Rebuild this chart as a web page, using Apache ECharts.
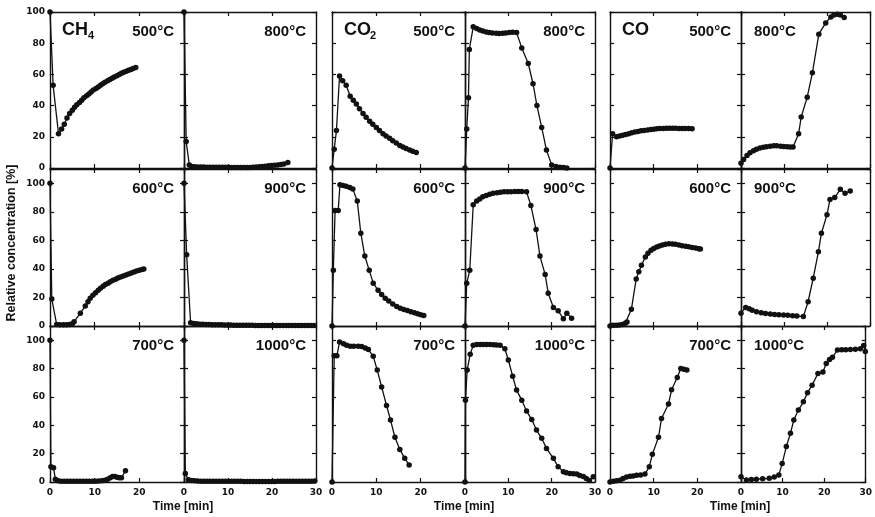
<!DOCTYPE html>
<html>
<head>
<meta charset="utf-8">
<script src="https://cdn.jsdelivr.net/npm/echarts/dist/echarts.min.js"></script>
<style>
  html, body { margin: 0; background: #fff; }
  #main { width: 875px; height: 517px; }
</style>
</head>
<body>
<div id="main"></div>
<script>
// data: [time (min), relative concentration (%)]
var ch4_500 = [[0,100],[0.7,53],[1.9,22],[2.6,25],[3.2,28],[3.8,32],[4.4,35],[5,37],[5.5,39],[6,40.5],[6.6,42],[7.1,43.5],[7.6,45],[8.2,46.3],[8.7,47.5],[9.2,48.7],[9.7,50],[10.3,51],[10.8,52],[11.3,53],[11.8,54],[12.3,55],[12.9,56],[13.4,56.8],[13.9,57.6],[14.4,58.4],[15,59.2],[15.5,60],[16,60.7],[16.5,61.4],[17.1,62],[17.6,62.6],[18.1,63.2],[18.6,63.8],[19.2,64.5]];
var ch4_600 = [[0,100],[0.4,19],[1.5,1],[2.2,0.8],[3,0.8],[3.7,0.8],[4.4,1],[5,1.5],[5.4,3],[6.8,9],[7.9,14],[8.5,17],[9,19.5],[9.6,21.5],[10.2,23.3],[10.8,25],[11.3,26.5],[11.9,27.8],[12.4,29],[13,30],[13.5,31],[14.1,32],[14.7,32.8],[15.2,33.6],[15.8,34.4],[16.4,35],[17,35.8],[17.6,36.5],[18.2,37.2],[18.8,37.8],[19.4,38.5],[20,39],[20.6,39.6],[21,40]];
var ch4_700 = [[0,100],[0.2,10.8],[0.8,10],[1.2,2],[1.8,0.8],[2.5,0.6],[3.2,0.5],[3.9,0.5],[4.6,0.5],[5.3,0.5],[6,0.5],[6.7,0.5],[7.4,0.5],[8.1,0.5],[8.8,0.5],[9.5,0.5],[10.2,0.6],[10.9,0.7],[11.6,0.9],[12.3,1.3],[12.9,2],[13.5,3],[14,3.8],[14.5,3.8],[15,3.3],[15.5,3],[16,3],[16.9,8]];
var ch4_800 = [[0,100],[0.5,17],[1.2,2],[1.7,1],[2.4,0.8],[3.1,0.7],[3.8,0.6],[4.5,0.6],[5.2,0.5],[5.9,0.5],[6.6,0.5],[7.3,0.5],[8,0.5],[8.7,0.5],[9.4,0.5],[10.1,0.5],[10.8,0.4],[11.5,0.4],[12.2,0.4],[12.9,0.3],[13.6,0.3],[14.3,0.3],[15,0.4],[15.7,0.5],[16.4,0.6],[17.1,0.8],[17.8,1],[18.5,1.2],[19.2,1.4],[19.9,1.6],[20.6,1.8],[21.3,2],[22,2.2],[22.7,2.5],[23.6,3.5]];
var ch4_900 = [[0,100],[0.6,50],[1.5,2.3],[2.2,1.8],[2.9,1.5],[3.6,1.3],[4.3,1.2],[5,1.1],[5.7,1],[6.4,0.9],[7.1,0.9],[7.8,0.8],[8.5,0.8],[9.2,0.7],[9.9,0.7],[10.6,0.7],[11.3,0.6],[12,0.6],[12.7,0.6],[13.4,0.5],[14.1,0.5],[14.8,0.5],[15.5,0.5],[16.2,0.4],[16.9,0.4],[17.6,0.4],[18.3,0.4],[19,0.4],[19.7,0.3],[20.4,0.3],[21.1,0.3],[21.8,0.3],[22.5,0.3],[23.2,0.3],[23.9,0.3],[24.6,0.3],[25.3,0.3],[26,0.3],[26.7,0.3],[27.4,0.3],[28.1,0.3],[28.8,0.3],[29.5,0.3]];
var ch4_1000 = [[0,100],[0.3,6],[1,1.5],[1.7,1],[2.4,0.8],[3.1,0.7],[3.8,0.6],[4.5,0.6],[5.2,0.5],[5.9,0.5],[6.6,0.5],[7.3,0.5],[8,0.5],[8.7,0.5],[9.4,0.5],[10.1,0.5],[10.8,0.5],[11.5,0.5],[12.2,0.5],[12.9,0.5],[13.6,0.4],[14.3,0.4],[15,0.4],[15.7,0.4],[16.4,0.4],[17.1,0.4],[17.8,0.4],[18.5,0.4],[19.2,0.4],[19.9,0.4],[20.6,0.4],[21.3,0.5],[22,0.5],[22.7,0.5],[23.4,0.5],[24.1,0.5],[24.8,0.5],[25.5,0.5],[26.2,0.5],[26.9,0.5],[27.6,0.6],[28.3,0.6],[29,0.6],[29.7,0.7]];

var co2_500 = [[0,0],[0.5,12],[1,24],[1.7,59],[2.4,56],[3.2,53],[4.1,46],[4.8,43.5],[5.5,41],[6.2,38],[7,35],[7.7,32.5],[8.5,30],[9.2,28],[10,26],[10.7,24],[11.5,22],[12.2,20.5],[13,19],[13.7,17.5],[14.5,16],[15.3,14.5],[16,13.5],[16.7,12.5],[17.5,11.5],[18.2,10.7],[19,10]];
var co2_600 = [[0,0],[0.3,39],[0.7,81],[1.4,81],[1.8,99],[2.5,98.5],[3.2,98],[4,97],[4.7,96],[5.7,87.5],[6.5,65],[7.4,49],[8.4,39],[9.3,30],[10.4,25],[11.2,22],[12,19.5],[12.8,17.5],[13.7,15.5],[14.6,13.6],[15.4,12.5],[16.2,11.5],[17,10.8],[17.8,10],[18.6,9.2],[19.3,8.5],[20,7.8],[20.7,7.3]];
var co2_700 = [[0,0],[0.5,89],[1.1,89],[1.7,98.8],[2.6,97.5],[3.3,96.5],[4.1,95.8],[4.9,95.8],[5.9,95.8],[6.7,95.5],[7.5,94.5],[8.2,93.4],[9.3,88.7],[10.2,78.9],[11.2,67],[12.3,54],[13.2,43.7],[14.2,31.5],[15.3,23],[16.4,16.7],[17.4,12]];
var co2_800 = [[0,0],[0.4,25],[0.8,45],[1,76],[1.9,90.5],[2.7,89.5],[3.4,88.5],[4.1,87.8],[4.9,87.2],[5.6,86.8],[6.3,86.5],[7.2,86.3],[7.9,86.2],[8.7,86.3],[9.4,86.6],[10.2,86.8],[11,87],[11.9,86.8],[13.1,77],[14.6,67],[15.7,54],[16.6,40],[17.7,26],[18.8,11.5],[20,2],[21,1],[21.9,0.5],[22.7,0.3],[23.5,0]];
var co2_900 = [[0,0],[0.4,30],[1.1,39],[1.9,85],[2.7,87.5],[3.4,89],[4.1,90.5],[4.9,91.5],[5.7,92.3],[6.5,93],[7.4,93.4],[8.2,93.7],[9,94],[9.8,94],[10.6,94],[11.5,94.2],[12.3,94.2],[13.1,94.3],[14.2,94],[15.2,84.5],[16.4,67.6],[17.3,49],[18.5,36],[19.2,23],[20.4,13],[21.5,10.7],[22.7,5],[23.5,9],[24.6,5.5]];
var co2_1000 = [[0,0],[0.1,57.7],[0.5,79],[1.2,90],[1.9,96.5],[2.7,97],[3.5,97],[4.2,97],[5,97],[5.8,97],[6.6,96.8],[7.3,96.6],[8.1,96.5],[9.2,94],[10,86],[11,74.6],[11.9,64.8],[13.1,57.7],[14.2,50],[15.4,44],[16.5,36.6],[17.7,30.8],[18.8,23.7],[20.4,16.7],[21.5,10.8],[22.7,7.3],[23.4,6.5],[24.2,6],[25,5.8],[25.8,5.6],[26.5,4.5],[27.3,3.8],[28,2.5],[28.7,1],[29.6,3.7]];

var co_500 = [[0,0],[0.6,22],[1.5,20],[2.2,20.5],[2.9,21],[3.6,21.5],[4.3,22],[5,22.6],[5.7,23],[6.4,23.4],[7.1,23.8],[7.8,24.1],[8.6,24.4],[9.3,24.7],[10,24.9],[10.7,25.1],[11.4,25.3],[12.2,25.4],[12.9,25.5],[13.6,25.5],[14.3,25.5],[15,25.5],[15.8,25.4],[16.5,25.4],[17.2,25.3],[18,25.3],[18.8,25.2]];
var co_600 = [[0,0],[0.7,0.5],[1.4,0.5],[2.1,0.7],[2.8,1],[3.5,2],[3.9,2.8],[4.9,11.7],[6,33],[6.6,38],[7.2,42.5],[8.1,48.4],[8.7,51],[9.4,53],[10,54.3],[10.7,55.3],[11.3,56],[12,56.8],[12.7,57.3],[13.5,57.7],[14.3,57.5],[15,57.2],[15.8,56.8],[16.5,56.3],[17.3,55.9],[18,55.5],[18.8,55],[19.6,54.6],[20.3,54.2],[20.7,54]];
var co_700 = [[0,0],[0.8,0.5],[1.5,0.8],[2.3,1.2],[3,2.5],[3.8,3.5],[4.6,4],[5.3,4.3],[6.1,4.7],[7,5],[8,5.6],[9,10.8],[9.7,19.5],[11.1,31.5],[11.8,44.8],[13.4,55],[14.1,65],[15.4,73.7],[16.2,80],[16.9,79.5],[17.6,79]];
var co_800 = [[0,3],[0.6,5.5],[1.4,8],[2.1,9.8],[2.9,11],[3.6,12],[4.4,12.8],[5.2,13.3],[5.9,13.7],[6.8,14],[7.6,14.2],[8.3,14.2],[9.2,14],[9.9,13.8],[10.7,13.6],[11.4,13.5],[12.1,13.5],[13.4,22],[14,32.7],[15.4,45.4],[16.6,61],[18.1,85.8],[19.7,93],[20.9,96.8],[21.6,98],[22.4,98.5],[23.1,98],[24,96.4]];
var co_900 = [[0,9],[1.1,13],[1.9,12],[2.6,11],[3.6,10],[4.7,9.3],[5.7,8.8],[6.8,8.4],[7.8,8],[8.8,7.8],[9.9,7.7],[10.9,7.5],[12,7.2],[13,7],[14.5,6.6],[15.6,17],[16.8,33.5],[18,52],[18.7,65],[20,78],[20.7,88.7],[21.8,90],[23.1,95.8],[24.2,93],[25.4,94.6]];
var co_1000 = [[0,3.7],[1.3,1.4],[2.5,1.8],[3.7,2],[5.2,2.3],[6.8,2.6],[8,3.5],[9.1,5],[9.9,13],[10.9,25],[11.9,34.4],[12.7,43.7],[13.8,50.7],[15,56.5],[16,63],[17.1,68.3],[18.5,76.5],[19.7,77.5],[20.5,83.6],[21.3,86.4],[22,88],[23.2,93],[24.2,93.2],[25.2,93.3],[26.3,93.4],[27.5,93.6],[28.7,94],[29.5,96.3],[29.9,92]];

var gasNames = ['CH', 'CO', 'CO'];
var gasSubs = ['4', '2', ''];
var tempsLeft = ['500°C', '600°C', '700°C'];
var tempsRight = ['800°C', '900°C', '1000°C'];

var seriesByPanel = [
  [ch4_500, ch4_800], [ch4_600, ch4_900], [ch4_700, ch4_1000],
  [co2_500, co2_800], [co2_600, co2_900], [co2_700, co2_1000],
  [co_500, co_800], [co_600, co_900], [co_700, co_1000]
];

(function () {
  // layout (pixels)
  var cols = [[50, 134], [184, 132], [332, 133], [465, 130], [610, 131], [741, 129]];
  var rows = [[12, 156, 100], [169, 157, 110], [326, 156, 110]];
  var ink = '#111';
  var font = '"Liberation Sans", Arial, sans-serif';

  var grids = [], xAxes = [], yAxes = [], series = [], graphic = [];

  function axisCommon() {
    return {
      axisLine: { show: true, onZero: false, lineStyle: { color: ink, width: 1.4 } },
      axisTick: { show: true, inside: true, length: 4, lineStyle: { color: ink, width: 1.2 } },
      splitLine: { show: false }
    };
  }

  for (var g = 0; g < 3; g++) {
    for (var r = 0; r < 3; r++) {
      for (var s = 0; s < 2; s++) {
        var c = g * 2 + s;
        var gi = grids.length;
        var gLeft = cols[c][0], gWidth = cols[c][1];
        var gTop = rows[r][0], gHeight = rows[r][1], yMax = rows[r][2];
        var leftSide = s === 0;
        grids.push({ left: gLeft, top: gTop, width: gWidth, height: gHeight });

        var xb = axisCommon();
        xb.gridIndex = gi; xb.type = 'value'; xb.position = 'bottom';
        xb.min = 0; xb.max = 30; xb.interval = 10;
        xb.axisLabel = {
          show: r === 2, margin: 6, color: ink, fontFamily: 'DejaVu Sans', fontWeight: 'bold', fontSize: 9,
          formatter: leftSide ? function (v) { return v === 30 ? '' : String(v); } : function (v) { return String(v); }
        };
        var xt = axisCommon();
        xt.gridIndex = gi; xt.type = 'value'; xt.position = 'top';
        xt.min = 0; xt.max = 30; xt.interval = 10; xt.axisLabel = { show: false };
        xAxes.push(xb, xt);

        var yl = axisCommon();
        yl.gridIndex = gi; yl.type = 'value'; yl.position = 'left';
        yl.min = 0; yl.max = yMax; yl.interval = 20;
        yl.axisLabel = {
          show: c === 0, margin: 5, color: ink, fontFamily: 'DejaVu Sans', fontWeight: 'bold', fontSize: 9,
          formatter: function (v) { return v > 100 ? '' : String(v); }
        };
        var yr = axisCommon();
        yr.gridIndex = gi; yr.type = 'value'; yr.position = 'right';
        yr.min = 0; yr.max = yMax; yr.interval = 20; yr.axisLabel = { show: false };
        yAxes.push(yl, yr);

        series.push({
          type: 'line', xAxisIndex: gi * 2, yAxisIndex: gi * 2,
          data: seriesByPanel[g * 3 + r][s],
          symbol: 'circle', symbolSize: 5.5, showSymbol: true,
          lineStyle: { color: ink, width: 1.3 },
          itemStyle: { color: ink },
          animation: false, silent: true
        });

        // temperature label
        var alignLeft = (g === 2 && !leftSide);
        graphic.push({
          type: 'text',
          x: alignLeft ? gLeft + 13 : gLeft + gWidth - 10,
          y: gTop + 20,
          style: {
            text: leftSide ? tempsLeft[r] : tempsRight[r], fill: ink, font: 'bold 15px ' + font,
            align: alignLeft ? 'left' : 'right', verticalAlign: 'middle'
          }
        });
      }
    }
    // gas label
    var gx = cols[g * 2][0] + 12;
    graphic.push({
      type: 'text', x: gx, y: 30,
      style: { text: gasNames[g], fill: ink, font: 'bold 18px ' + font, align: 'left', verticalAlign: 'middle' }
    });
    if (gasSubs[g]) {
      graphic.push({
        type: 'text', x: gx + 26, y: 36,
        style: { text: gasSubs[g], fill: ink, font: 'bold 11px ' + font, align: 'left', verticalAlign: 'middle' }
      });
    }
    // time axis title, centred under each pair of panels
    graphic.push({
      type: 'text', x: cols[g * 2 + 1][0] - 1, y: 507,
      style: { text: 'Time [min]', fill: ink, font: 'bold 12px ' + font, align: 'center', verticalAlign: 'middle' }
    });
  }

  graphic.push({
    type: 'text', x: 12, y: 243, rotation: Math.PI / 2,
    style: { text: 'Relative concentration [%]', fill: ink, font: 'bold 12.5px ' + font, align: 'center', verticalAlign: 'middle' }
  });

  var myChart = echarts.init(document.getElementById('main'));
  var option = {
    backgroundColor: '#fff',
    animation: false,
    grid: grids,
    xAxis: xAxes,
    yAxis: yAxes,
    series: series,
    graphic: graphic
  };
  myChart.setOption(option);
})();
</script>
</body>
</html>
